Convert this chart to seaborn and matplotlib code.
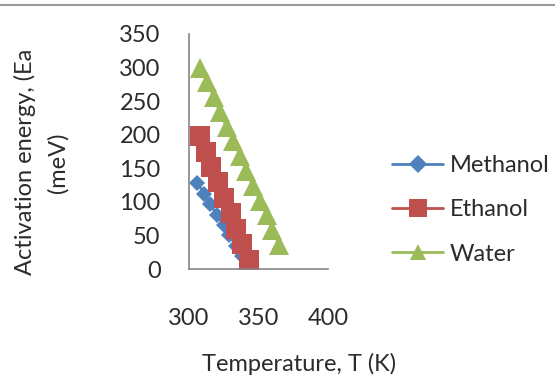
import matplotlib
matplotlib.use("Agg")
import matplotlib.pyplot as plt
from matplotlib.lines import Line2D
import seaborn as sns
import pandas as pd

# Activation energy versus temperature for three solvents
methanol_T = [306, 311, 315, 320, 325, 329, 334, 338, 343]
methanol_Ea = [128, 112, 97, 81, 66, 50, 34, 19, 3]

ethanol_T = [308, 312, 316, 321, 325, 330, 334, 338, 343]
ethanol_Ea = [198, 175, 152, 129, 106, 83, 60, 37, 14]

water_T = [308, 313, 318, 322, 327, 332, 337, 341, 346, 351, 356, 360, 365]
water_Ea = [300, 278, 256, 234, 212, 190, 168, 146, 124, 102, 80, 58, 36]

series_names = ["Methanol", "Ethanol", "Water"]
x_ticks = [300, 350, 400]
y_ticks = [0, 50, 100, 150, 200, 250, 300, 350]

colors = {"Methanol": "#4F81BD", "Ethanol": "#C0504D", "Water": "#9BBB59"}
markers = {"Methanol": "D", "Ethanol": "s", "Water": "^"}
msizes = {"Methanol": 8, "Ethanol": 14.5, "Water": 14}

df = pd.concat([
    pd.DataFrame({"T": methanol_T, "Ea": methanol_Ea, "Solvent": "Methanol"}),
    pd.DataFrame({"T": ethanol_T, "Ea": ethanol_Ea, "Solvent": "Ethanol"}),
    pd.DataFrame({"T": water_T, "Ea": water_Ea, "Solvent": "Water"}),
])

sns.set_style("white")
plt.rcParams["font.family"] = ["Lato", "DejaVu Sans"]
text_color = "#2b2b2b"
axis_color = "#868686"
fs = 17

fig = plt.figure(figsize=(5.55, 3.78), dpi=100)
ax = fig.add_axes([189 / 555, 1 - 269 / 378, 139 / 555, 235 / 378])

for name in series_names:
    sub = df[df["Solvent"] == name]
    sns.lineplot(data=sub, x="T", y="Ea", ax=ax, color=colors[name],
                 marker=markers[name], markersize=msizes[name],
                 markeredgewidth=0, linewidth=2, estimator=None,
                 sort=False, legend=False)

ax.set_xlim(300, 400)
ax.set_ylim(0, 350)
ax.set_xticks(x_ticks)
ax.set_yticks(y_ticks)
ax.set_xlabel("")
ax.set_ylabel("")
for side in ["top", "right"]:
    ax.spines[side].set_visible(False)
for side in ["left", "bottom"]:
    ax.spines[side].set_color(axis_color)
    ax.spines[side].set_linewidth(1.2)
ax.tick_params(axis="both", direction="out", length=7, width=1.2,
               color=axis_color, labelsize=fs, labelcolor=text_color)
ax.tick_params(axis="x", pad=21)
ax.tick_params(axis="y", pad=13.5)

fig.text(25 / 555, 1 - 162 / 378, "Activation energy, (Ea", rotation=90,
         ha="center", va="center", fontsize=fs, color=text_color)
fig.text(58 / 555, 1 - 163 / 378, "(meV)", rotation=90,
         ha="center", va="center", fontsize=fs, color=text_color)
fig.text(299 / 555, 1 - 364 / 378, "Temperature, T (K)",
         ha="center", va="center", fontsize=fs, color=text_color)

handles = [Line2D([0], [0], color=colors[n], marker=markers[n],
                  markersize={"Methanol": 9, "Ethanol": 13, "Water": 12}[n],
                  markeredgewidth=0, linewidth=2) for n in series_names]
fig.legend(handles, series_names, loc="center left",
           bbox_to_anchor=(392 / 555, 1 - 210 / 378), frameon=False,
           fontsize=fs, labelcolor=text_color, handlelength=2.16,
           handletextpad=0.3, labelspacing=0.98, borderaxespad=0,
           borderpad=0)

fig.add_artist(Line2D([0, 1], [1 - 5 / 378, 1 - 5 / 378],
                      color="#9a9a9a", linewidth=1.5))

fig.savefig("out.png", dpi=100)
